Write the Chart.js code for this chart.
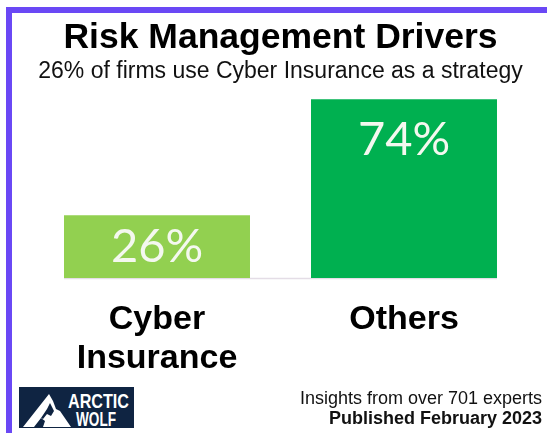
<!DOCTYPE html>
<html>
<head>
<meta charset="utf-8">
<script src="https://cdn.jsdelivr.net/npm/chart.js@4/dist/chart.umd.min.js"></script>
<style>
  html, body { margin: 0; padding: 0; background: #fff; width: 547px; height: 433px; overflow: hidden; }
  #wrap { position: relative; width: 547px; height: 433px; }
  #frame { position: absolute; left: 6px; top: 7px; right: 0; bottom: 0; border-top: 6px solid #6a48f5; border-left: 6px solid #6a48f5; pointer-events: none; }
  canvas { position: absolute; left: 0; top: 0; }
  .foot { position: absolute; right: 5px; font-family: "Liberation Sans", Arial, sans-serif; color: #111; white-space: nowrap; }
  #f1 { top: 389px; font-size: 18px; line-height: 18px; }
  #f2 { top: 409px; font-size: 18px; line-height: 18px; font-weight: bold; }
  #logo { position: absolute; left: 19px; top: 387px; }
</style>
</head>
<body>
<div id="wrap">
  <canvas id="c" width="547" height="433"></canvas>
  <div id="frame"></div>
  <svg id="logo" width="115" height="41" viewBox="0 0 115 41">
    <rect x="0" y="0" width="115" height="41" fill="#0f2442"/>
    <polygon points="30,7 4,40 15,40 22,31 26,34 24,40 52,40 41,24 37,22 34,14" fill="#ffffff"/>
    <polygon points="31,16 35,24 32,29 28,27 24,32 22,31 28,22" fill="#0f2442"/>
    <text x="49" y="21" font-family="Liberation Sans Narrow, Liberation Sans, Arial" font-weight="bold" font-size="20" fill="#ffffff" textLength="61" lengthAdjust="spacingAndGlyphs">ARCTIC</text>
    <text x="57" y="39" font-family="Liberation Sans Narrow, Liberation Sans, Arial" font-weight="bold" font-size="20" fill="#ffffff" textLength="40" lengthAdjust="spacingAndGlyphs">WOLF</text>
  </svg>
  <div class="foot" id="f1">Insights from over 701 experts</div>
  <div class="foot" id="f2">Published February 2023</div>
</div>
<script>
const titleText = 'Risk Management Drivers';
const subtitleText = '26% of firms use Cyber Insurance as a strategy';
const categories = [['Cyber', 'Insurance'], 'Others'];
const values = [26, 74];
const valueSuffix = '%';

const barColors = ['#92d050', '#00b050'];

const baselinePlugin = {
  id: 'baseline',
  beforeDatasetsDraw(chart) {
    const meta = chart.getDatasetMeta(0);
    const first = meta.data[0], last = meta.data[meta.data.length - 1];
    const y = chart.scales.y.getPixelForValue(0);
    const ctx = chart.ctx;
    ctx.save();
    ctx.strokeStyle = '#e4dde6';
    ctx.lineWidth = 1.5;
    ctx.beginPath();
    ctx.moveTo(first.x - first.width / 2, y + 0.5);
    ctx.lineTo(last.x + last.width / 2, y + 0.5);
    ctx.stroke();
    ctx.restore();
  }
};

const valueLabelPlugin = {
  id: 'valueLabels',
  afterDatasetsDraw(chart) {
    const ctx = chart.ctx;
    const meta = chart.getDatasetMeta(0);
    ctx.save();
    ctx.fillStyle = '#f4f8ef';
    ctx.font = '47px Lato, "Open Sans", sans-serif';
    ctx.textAlign = 'center';
    ctx.textBaseline = 'middle';
    meta.data.forEach((bar, i) => {
      const top = bar.y, bottom = bar.base;
      const y = Math.min(top + 41, (top + bottom) / 2);
      ctx.fillText(values[i] + valueSuffix, bar.x, y);
    });
    ctx.restore();
  }
};

new Chart(document.getElementById('c'), {
  type: 'bar',
  data: {
    labels: categories,
    datasets: [{
      data: values,
      backgroundColor: barColors,
      borderWidth: 0,
      categoryPercentage: 1,
      barPercentage: 0.753
    }]
  },
  options: {
    responsive: false,
    animation: false,
    events: [],
    layout: { padding: { left: 33.5, right: 19.5, top: 0, bottom: 0 } },
    plugins: {
      legend: { display: false },
      tooltip: { enabled: false },
      title: {
        display: true,
        text: titleText,
        color: '#000',
        font: { family: '"Liberation Sans", Arial, sans-serif', size: 35.5, weight: 'bold', lineHeight: 1.1 },
        padding: { top: 18.5, bottom: 0 }
      },
      subtitle: {
        display: true,
        text: subtitleText,
        color: '#111',
        font: { family: '"Liberation Sans", Arial, sans-serif', size: 23, weight: 'normal', lineHeight: 1.1 },
        padding: { top: 1.8, bottom: 0 }
      }
    },
    scales: {
      x: {
        grid: { display: false, drawTicks: false },
        border: { display: false },
        ticks: {
          color: '#000',
          padding: 22,
          font: { family: '"Liberation Sans", Arial, sans-serif', size: 34, weight: 'bold', lineHeight: 1.15 }
        },
        afterFit(scale) { scale.height = 155; }
      },
      y: {
        display: false,
        min: 0,
        max: 80
      }
    }
  },
  plugins: [baselinePlugin, valueLabelPlugin]
});
</script>
</body>
</html>
